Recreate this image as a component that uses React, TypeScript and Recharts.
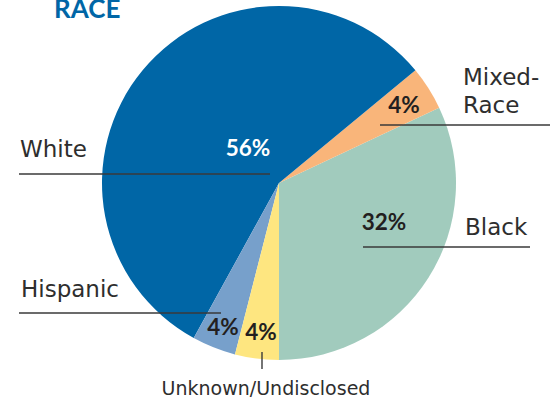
import React from 'react';
import { PieChart, Pie, Cell } from 'recharts';

const categories = ['Black', 'Mixed-Race', 'White', 'Hispanic', 'Unknown/Undisclosed'];
const values = [32, 4, 56, 4, 4];
const colors = ['#A1CBBD', '#F9B57A', '#0066A6', '#77A0CB', '#FEE680'];
const title = 'RACE';

const data = categories.map((name, i) => ({ name, value: values[i] }));

// label layout relative to pie center (style table)
type Layout = {
  pct: [number, number];
  pctColor: string;
  nameLines: string[];
  name: [number, number];
  nameAnchor: 'start' | 'middle';
  nameSize: number;
  line: [number, number, number, number];
};
const layout: Layout[] = [
  { pct: [105, 47], pctColor: '#231F20', nameLines: ['Black'], name: [186, 52], nameAnchor: 'start', nameSize: 23, line: [84, 64, 251, 64] },
  { pct: [125, -70], pctColor: '#231F20', nameLines: ['Mixed-', 'Race'], name: [184, -98], nameAnchor: 'start', nameSize: 23, line: [101, -58, 272, -58] },
  { pct: [-31, -27], pctColor: '#FFFFFF', nameLines: ['White'], name: [-259, -26], nameAnchor: 'start', nameSize: 23, line: [-260, -9, -9, -9] },
  { pct: [-56, 152], pctColor: '#231F20', nameLines: ['Hispanic'], name: [-258, 114], nameAnchor: 'start', nameSize: 23, line: [-260, 130, -58, 130] },
  { pct: [-18, 157], pctColor: '#231F20', nameLines: ['Unknown/Undisclosed'], name: [-13, 212], nameAnchor: 'middle', nameSize: 19, line: [-17, 169, -17, 186] },
];

const FONT = 'Lato, "Open Sans", sans-serif';
const NAME_FONT = '"DejaVu Sans", sans-serif';

const renderLabel = (props: any) => {
  const { cx, cy, index, percent } = props;
  const l = layout[index];
  if (!l) return null;
  return (
    <g>
      <line x1={cx + l.line[0]} y1={cy + l.line[1]} x2={cx + l.line[2]} y2={cy + l.line[3]} stroke="#3a3a3a" strokeWidth={1.4} />
      <text x={cx + l.pct[0]} y={cy + l.pct[1]} textAnchor="middle" fill={l.pctColor} fontFamily={FONT} fontWeight={700} fontSize={22.5}>
        {Math.round(percent * 100)}%
      </text>
      {l.nameLines.map((t, k) => (
        <text key={k} x={cx + l.name[0]} y={cy + l.name[1] + k * 28} textAnchor={l.nameAnchor} fill="#2e2e2e" fontFamily={NAME_FONT} fontWeight={400} fontSize={l.nameSize}>
          {t}
        </text>
      ))}
    </g>
  );
};

export default function App() {
  return (
    <div style={{ position: 'absolute', left: 0, top: 0, width: 550, height: 400, background: '#fff' }}>
      <PieChart width={550} height={400} margin={{ top: 0, right: 0, bottom: 0, left: 0 }}>
        <text x={54} y={18} fill="#0066A6" fontFamily={FONT} fontWeight={700} fontSize={26}>
          {title}
        </text>
        <Pie
          data={data}
          dataKey="value"
          nameKey="name"
          cx={279}
          cy={183}
          outerRadius={177}
          startAngle={-90}
          endAngle={270}
          stroke="none"
          label={renderLabel}
          labelLine={false}
          isAnimationActive={false}
        >
          {data.map((d, i) => (
            <Cell key={d.name} fill={colors[i]} />
          ))}
        </Pie>
      </PieChart>
    </div>
  );
}
